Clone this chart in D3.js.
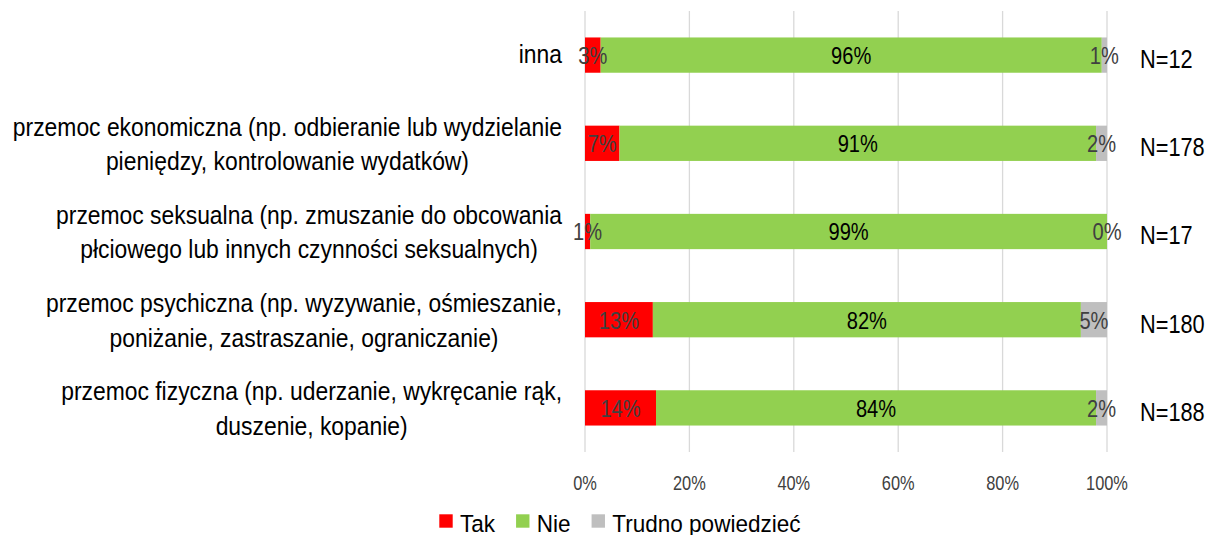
<!DOCTYPE html>
<html>
<head>
<meta charset="utf-8">
<script src="https://cdn.jsdelivr.net/npm/d3@7"></script>
<style>
  body { margin: 0; background: #fff; }
  svg { display: block; }
  text { font-family: "Liberation Sans", Arial, sans-serif; }
</style>
</head>
<body>
<svg id="chart" width="1205" height="535"></svg>
<script>
// Kategorie (od góry do dołu)
const categories = [
  "inna",
  "przemoc ekonomiczna (np. odbieranie lub wydzielanie\npieniędzy, kontrolowanie wydatków)",
  "przemoc seksualna (np. zmuszanie do obcowania\npłciowego lub innych czynności seksualnych)",
  "przemoc psychiczna (np. wyzywanie, ośmieszanie,\nponiżanie, zastraszanie, ograniczanie)",
  "przemoc fizyczna (np. uderzanie, wykręcanie rąk,\nduszenie, kopanie)"
];

// Wartości serii (%)
const tak    = [3, 6.6, 1, 13, 13.6];
const nie    = [96, 91.3, 99, 82, 84.3];
const trudno = [1, 2.1, 0, 5, 2.1];

const nLabels = ["N=12", "N=178", "N=17", "N=180", "N=188"];
const seriesNames = ["Tak", "Nie", "Trudno powiedzieć"];
const xTicks = [0, 20, 40, 60, 80, 100];

const colors = ["#ff0000", "#92d050", "#bfbfbf"];
const labelColors = ["#404040", "#000000", "#404040"];

// Zwężenie tekstu w poziomie (brak fontu Calibri)
const kNum = 0.82;   // liczby
const kCat = 0.915;  // etykiety kategorii
const kLeg = 0.92;   // legenda
const kN = 0.87;     // etykiety N
const narrow = k => `scale(${k},1)`;

const svg = d3.select("#chart");

// Skale
const x = d3.scaleLinear().domain([0, 100]).range([585, 1107]);
const y = d3.scaleBand()
  .domain(categories)
  .range([11, 452])
  .paddingInner(0.6)
  .paddingOuter(0.3);

// Dane do stosu
const rows = categories.map((c, i) => ({ cat: c, Tak: tak[i], Nie: nie[i], Trudno: trudno[i] }));
const keys = ["Tak", "Nie", "Trudno"];
const stacked = d3.stack().keys(keys)(rows);

// Linie siatki
svg.append("g")
  .selectAll("line")
  .data(xTicks)
  .join("line")
  .attr("x1", d => x(d))
  .attr("x2", d => x(d))
  .attr("y1", 11)
  .attr("y2", 452)
  .attr("stroke", "#d9d9d9")
  .attr("stroke-width", 1.3);

// Etykiety osi X
svg.append("g")
  .attr("transform", narrow(kNum))
  .selectAll("text")
  .data(xTicks)
  .join("text")
  .attr("x", d => x(d) / kNum)
  .attr("y", 490)
  .attr("text-anchor", "middle")
  .attr("font-size", 20)
  .attr("fill", "#404040")
  .text(d => d + "%");

// Słupki
const series = svg.append("g")
  .selectAll("g")
  .data(stacked)
  .join("g")
  .attr("fill", (d, i) => colors[i]);

series.selectAll("rect")
  .data(d => d)
  .join("rect")
  .attr("x", d => x(d[0]))
  .attr("y", d => y(d.data.cat))
  .attr("width", d => x(d[1]) - x(d[0]))
  .attr("height", y.bandwidth());

// Etykiety danych
stacked.forEach((s, si) => {
  svg.append("g")
    .attr("transform", narrow(kNum))
    .selectAll("text")
    .data(s)
    .join("text")
    .attr("x", d => (x(d[0]) + x(d[1])) / 2 / kNum)
    .attr("y", d => y(d.data.cat) + y.bandwidth() / 2)
    .attr("dy", "0.36em")
    .attr("text-anchor", "middle")
    .attr("font-size", 24.5)
    .attr("fill", labelColors[si])
    .text(d => Math.round(d[1] - d[0]) + "%");
});

// Etykiety kategorii (wyśrodkowane wieloliniowo, wyrównane do prawej)
const labelRight = 562;
categories.forEach(c => {
  const lines = c.split("\n");
  const cy = y(c) + y.bandwidth() / 2;
  const g = svg.append("g").attr("transform", narrow(kCat));
  const texts = g.selectAll("text")
    .data(lines)
    .join("text")
    .attr("font-size", 25)
    .attr("fill", "#000")
    .attr("text-anchor", "middle")
    .attr("y", (d, i) => lines.length === 1 ? cy + 8 : cy - 7.5 + i * 34.5)
    .text(d => d);
  let maxW = 0;
  texts.each(function () { maxW = Math.max(maxW, this.getComputedTextLength()); });
  texts.attr("x", labelRight / kCat - maxW / 2);
});

// Etykiety N
svg.append("g")
  .attr("transform", narrow(kN))
  .selectAll("text")
  .data(nLabels)
  .join("text")
  .attr("x", (x(100) + 33) / kN)
  .attr("y", (d, i) => y(categories[i]) + y.bandwidth() / 2 + 13)
  .attr("font-size", 25)
  .attr("fill", "#000")
  .text(d => d);

// Legenda
const legend = svg.append("g");
let lx = 439.3;
seriesNames.forEach((name, i) => {
  legend.append("rect")
    .attr("x", lx)
    .attr("y", 514.3)
    .attr("width", 13.4)
    .attr("height", 13.4)
    .attr("fill", colors[i]);
  const t = legend.append("text")
    .attr("transform", narrow(kLeg))
    .attr("x", (lx + 20.7) / kLeg)
    .attr("y", 532)
    .attr("font-size", 24.5)
    .attr("fill", "#000")
    .text(name);
  lx = lx + 20.7 + t.node().getComputedTextLength() * kLeg + 21;
});
</script>
</body>
</html>
